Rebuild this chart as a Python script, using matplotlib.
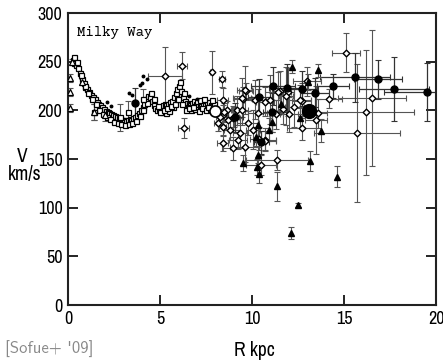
import matplotlib
matplotlib.use("Agg")
import matplotlib.pyplot as plt

plt.rcParams['font.family'] = ['Archivo Narrow', 'DejaVu Sans']

# ---------------- data ----------------
# inner rotation curve, open squares
sq_R = [0.25,0.35,0.45,0.55,0.65,0.75,0.85,0.95,1.05,1.15,1.25,1.35,1.45,1.55,1.65,1.75,1.85,1.95,
        2.05,2.15,2.25,2.35,2.45,2.55,2.65,2.75,2.85,2.95,3.05,3.15,3.25,3.35,3.45,3.55,3.65,3.75,3.85,3.95,
        4.05,4.15,4.25,4.35,4.45,4.55,4.65,4.75,4.85,4.95,5.05,5.15,5.25,5.35,5.45,5.55,5.65,5.75,5.85,5.95,
        6.05,6.15,6.25,6.35,6.45,6.55,6.65,6.75,6.85,6.95,7.05,7.15,7.25,7.35,7.45,7.55,7.65,7.75,7.85,7.95]
sq_V = [252,249,247,244,238,232,228,224,222,219,216,214,212,209,207,205,203,201,
        199,198,197,196,195,194,193,192,191,190,190,189,190,191,190,192,193,195,197,200,
        203,207,212,215,214,210,205,202,200,201,203,205,206,205,207,209,210,214,218,222,
        225,220,214,210,208,207,205,208,210,206,205,207,208,206,205,207,209,205,204,206]
sq2_R = [0.3,0.5,0.7,0.9,1.1,1.3,1.5,1.7,1.9,2.1,2.3,2.5,2.7,2.9,3.1,3.3,3.5,3.7,3.9,4.1,
         4.3,4.5,4.7,4.9,5.1,5.3,5.5,5.7,5.9,6.1,6.3,6.5,6.7,6.9,7.1,7.3,7.5,7.7,7.9]
sq2_V = [255,250,236,225,218,212,206,200,196,193,191,188,187,186,185,186,187,189,194,200,
         208,218,212,204,198,197,199,203,212,229,218,203,200,201,199,202,200,201,199]
sq3_R = [5.0,5.2,5.4,5.6,5.8,6.0,6.2,6.4,6.6,6.8,7.0,7.2,7.4,7.6,7.8]
sq3_V = [198,200,202,204,207,212,206,200,202,203,210,211,212,203,211]
# open triangles near the centre
otri_R = [0.1, 0.1, 0.1, 0.2, 0.75, 1.4, 2.0]
otri_V = [233, 219, 202, 250, 229, 198, 195]
otri_eV = [4, 4, 4, 3, 3, 8, 6]
# small dots above curve
dot_R = [2.1, 2.35, 3.3, 3.5, 3.9, 4.0, 4.1, 4.3, 6.6, 7.0, 9.6]
dot_V = [209, 204, 218, 216, 226, 228, 235, 232, 215, 212, 220]
# inner points with error bars (open squares)
ebs_R = [2.8, 3.26, 4.1, 1.4]
ebs_V = [193, 198, 212, 198]
ebs_eV = [14, 12, 10, 8]

# open diamonds with errors: R, V, dR, dV
dia_R = [5.27, 6.2, 6.3, 7.8, 8.37, 9.67, 9.5, 15.1, 13.0, 16.5, 16.2, 15.7, 14.2, 13.6, 13.5, 12.7,
         11.36, 10.5, 11.5, 11.96, 12.7, 10.7, 11.0, 11.85, 12.3, 11.7, 11.3, 12.0, 10.7,
         8.4, 8.65, 8.4, 8.97, 9.2, 9.46, 9.6, 9.46, 9.8, 8.8, 9.35, 9.24, 8.4, 8.97, 9.6,
         10.4, 10.7, 10.05, 10.3, 10.16, 11.4, 12.6, 8.26, 8.5, 8.7, 8.15, 8.4, 9.0]
dia_V = [235, 246, 182, 239, 232, 220, 212, 259, 230, 213, 198, 177, 212, 197, 190, 182,
         149, 144, 220, 219, 210, 209, 211, 215, 203, 201, 196, 196, 170,
         211, 200, 195, 192, 200, 213, 221, 200, 187, 180, 177, 170, 166, 161, 162,
         171, 169, 180, 197, 211, 219, 211, 193, 198, 190, 187, 183, 193]
dia_eR = [0.9, 0.25, 0.3, 0.1, 0.15, 0.4, 0.5, 0.76, 0.75, 1.85, 2.6, 2.35, 0.7, 0.5, 0.6, 0.8,
          1.7, 0.8, 0.4, 0.3, 0.5, 0.5, 0.6, 0.4, 0.5, 0.3, 0.4, 0.5, 0.6,
          0.3, 0.2, 0.3, 0.4, 0.3, 0.5, 0.4, 0.3, 0.6, 0.3, 0.4, 0.5, 0.3, 0.6, 0.8,
          0.5, 0.6, 0.4, 0.5, 0.6, 0.7, 0.6, 0.2, 0.2, 0.3, 0.2, 0.2, 0.3]
dia_eV = [30, 14, 10, 22, 8, 8, 12, 20, 15, 70, 64, 71, 10, 15, 35, 12,
          10, 10, 20, 25, 18, 15, 25, 30, 20, 15, 15, 18, 12,
          12, 10, 10, 12, 15, 20, 25, 15, 12, 10, 15, 10, 8, 12, 15,
          12, 10, 20, 25, 20, 20, 15, 8, 10, 10, 8, 8, 10]

# filled circles with errors
fc_R = [15.6, 16.85, 17.7, 19.5, 14.4, 13.4, 12.7, 11.9, 11.15, 10.4, 9.1, 11.1, 10.5, 3.64]
fc_V = [234, 232, 222, 219, 225, 218, 222, 223, 225, 214, 193, 198, 167, 208]
fc_eR = [1.9, 1.3, 1.9, 2.3, 0.85, 0.8, 0.9, 1.0, 1.2, 0.6, 0.4, 0.5, 0.4, 0.0]
fc_eV = [25, 20, 33, 30, 12, 15, 18, 25, 20, 18, 15, 20, 12, 15]
# big markers
big_R = [13.1]
big_V = [199]
sun_R = [8.0]
sun_V = [199]

# filled triangles with errors
ft_R = [13.6, 12.2, 13.05, 13.75, 13.15, 14.6, 11.36, 12.5, 12.1, 10.4, 10.27, 10.3,
        11.6, 12.6, 10.9, 11.1, 10.3, 10.2, 9.5]
ft_V = [241, 245, 229, 179, 148, 132, 122, 103, 74, 135, 142, 154,
        207, 192, 180, 188, 185, 173, 146]
ft_eV = [7, 7, 8, 12, 10, 11, 15, 2, 6, 10, 8, 8,
         10, 10, 12, 10, 12, 10, 8]

# ---------------- figure ----------------
fig = plt.figure(figsize=(4.43, 3.62), dpi=100)
ax = fig.add_axes([68/443, 1-305/362, (436-68)/443, (305-13)/362])

ecol = '#555555'
ax.errorbar(dia_R, dia_V, xerr=dia_eR, yerr=dia_eV, fmt='none', ecolor=ecol,
            elinewidth=0.8, capsize=2, capthick=0.8, zorder=2)
ax.errorbar(fc_R, fc_V, xerr=fc_eR, yerr=fc_eV, fmt='none', ecolor='#333333',
            elinewidth=0.9, capsize=2, capthick=0.8, zorder=2)
ax.errorbar(ft_R, ft_V, yerr=ft_eV, fmt='none', ecolor=ecol,
            elinewidth=0.8, capsize=2, capthick=0.8, zorder=2)
ax.errorbar(otri_R, otri_V, yerr=otri_eV, fmt='none', ecolor=ecol,
            elinewidth=0.8, capsize=2, capthick=0.8, zorder=2)
ax.errorbar(ebs_R, ebs_V, yerr=ebs_eV, fmt='none', ecolor=ecol,
            elinewidth=0.8, capsize=2, capthick=0.8, zorder=2)

for R, V in ((sq_R, sq_V), (sq2_R, sq2_V), (sq3_R, sq3_V), (ebs_R, ebs_V)):
    ax.plot(R, V, 's', ms=3.6, mfc='white', mec='black', mew=0.9, ls='none', zorder=3)
ax.plot(otri_R, otri_V, '^', ms=3.8, mfc='white', mec='black', mew=0.9, ls='none', zorder=3)
ax.plot(dot_R, dot_V, 'o', ms=1.8, mfc='black', mec='black', ls='none', zorder=3)
ax.plot(dia_R, dia_V, 'D', ms=3.4, mfc='white', mec='black', mew=1.0, ls='none', zorder=4)
ax.plot(fc_R, fc_V, 'o', ms=5, mfc='black', mec='black', ls='none', zorder=4)
ax.plot(ft_R, ft_V, '^', ms=4, mfc='black', mec='black', ls='none', zorder=4)
ax.plot(big_R, big_V, 'o', ms=10, mfc='black', mec='black', ls='none', zorder=4)
ax.plot(sun_R, sun_V, 'o', ms=8, mfc='white', mec='black', mew=1.2, ls='none', zorder=4)

ax.set_xlim(0, 20)
ax.set_ylim(0, 300)
ax.set_xticks([0, 5, 10, 15, 20])
ax.set_yticks([0, 50, 100, 150, 200, 250, 300])
ax.tick_params(direction='in', length=7, width=1.2, top=True, right=True,
               labelsize=13, pad=4)
for s in ax.spines.values():
    s.set_linewidth(1.5)
    s.set_color('#222222')

ax.text(0.025, 0.955, 'Milky Way', transform=ax.transAxes,
        family=['Courier Prime', 'Liberation Mono'],
        fontsize=10, ha='left', va='top')

fig.text(22/443, 1-157/362, 'V', ha='center', va='center', fontsize=14)
fig.text(25/443, 1-175/362, 'km/s', ha='center', va='center', fontsize=14)
fig.text(254/443, 1-350/362, 'R kpc', ha='center', va='center', fontsize=14)
fig.text(5/443, 1-349/362, "[Sofue+ '09]", ha='left', va='center', fontsize=12,
         color='#888888', family=['Latin Modern Sans', 'DejaVu Sans'])

fig.savefig('out.png', dpi=100)
